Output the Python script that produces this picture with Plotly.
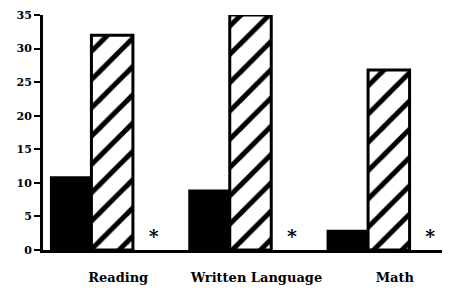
import plotly.graph_objects as go

categories = ["Reading", "Written Language", "Math"]
series_solid = [11.0, 9.0, 3.0]
series_hatched = [32.0, 35.0, 26.8]
series_missing = [0, 0, 0]
missing_marks = ["*", "*", "*"]
y_ticks = [0, 5, 10, 15, 20, 25, 30, 35]

font_family = "DejaVu Serif, Liberation Serif, serif"

fig = go.Figure()
fig.add_trace(go.Bar(
    x=categories, y=series_solid,
    marker=dict(color="black", line=dict(color="black", width=0)),
    showlegend=False,
))
fig.add_trace(go.Bar(
    x=categories, y=series_hatched,
    marker=dict(color="white", line=dict(color="black", width=3),
                pattern=dict(shape="/", fgcolor="black", fgopacity=1, bgcolor="white",
                             size=20, solidity=0.25)),
    showlegend=False,
))
fig.add_trace(go.Bar(
    x=categories, y=series_missing,
    text=missing_marks, textposition="outside", cliponaxis=False,
    textfont=dict(family=font_family, size=19, color="black", weight="bold"),
    marker=dict(color="white", line=dict(width=0)),
    showlegend=False,
))

# the page body adds an 8px offset; margins compensate for it
fig.update_layout(
    width=450, height=290,
    margin=dict(l=35, r=0, t=7, b=48),
    paper_bgcolor="white", plot_bgcolor="white",
    barmode="group", bargap=0.1, bargroupgap=0,
    font=dict(family=font_family, size=13, color="black"),
)
fig.update_xaxes(
    showline=True, linecolor="black", linewidth=3,
    ticks="", showgrid=False, zeroline=False, automargin=False,
    tickfont=dict(family=font_family, size=13, color="black", weight="bold"),
    ticklabelstandoff=13, ticklabelshift=6,
)
fig.update_yaxes(
    range=[0, 35], tickvals=y_ticks, automargin=False,
    ticklabeloverflow="allow",
    showline=True, linecolor="black", linewidth=3,
    ticks="outside", ticklen=6, tickwidth=2, tickcolor="black",
    showgrid=False, zeroline=False,
    tickfont=dict(family=font_family, size=11, color="black", weight="bold"),
)

fig.write_html("out.html")
